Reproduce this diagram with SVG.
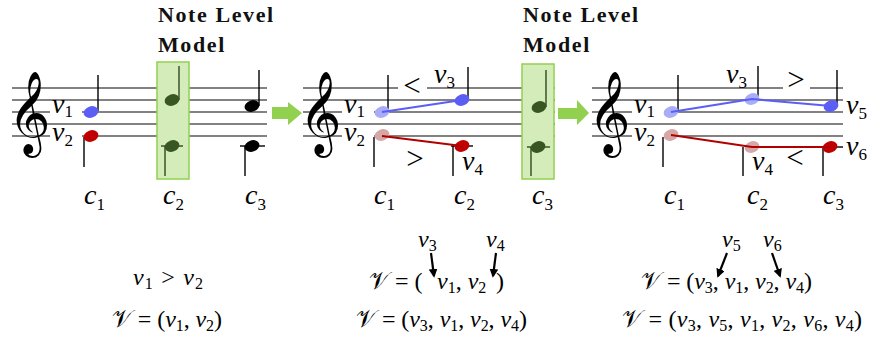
<svg xmlns="http://www.w3.org/2000/svg" xmlns:xlink="http://www.w3.org/1999/xlink" width="872" height="339" viewBox="0 0 872 339">
<style>
.staff{stroke:#5a5a5a;stroke-width:1.4;fill:none}
.stem{stroke:#000;stroke-width:1.4}
.gstem{stroke:#2f4a1f;stroke-width:1.4}
.m{font-family:"Liberation Serif",serif;font-size:28px;fill:#000}
.i{font-style:italic}
.sub{font-size:17px}
.f{font-family:"Liberation Serif",serif;font-size:24px;fill:#000}
.fs{font-size:16px}
.rel{font-family:"Liberation Serif",serif;font-size:31px;fill:#000}
.title{font-family:"Liberation Serif",serif;font-size:22px;font-weight:bold;fill:#111;letter-spacing:1.6px}
.clef{font-family:"DejaVu Sans",sans-serif;font-size:72px;fill:#000}
.box{fill:#d3ecb9;stroke:#92d050;stroke-width:1.5}
.bg{fill:#fff}
.blue{fill:#5b5ef5}.lblue{fill:#a9acf6}.red{fill:#c00000}.pink{fill:#d6a7a7}.dg{fill:#375623}.blk{fill:#000}
.bl{stroke:#5b5ef5;stroke-width:2;fill:none}
.rl{stroke:#b00000;stroke-width:2;fill:none}
.arr{stroke:#000;stroke-width:2.2;fill:none;marker-end:url(#ah)}
.garr{fill:#92d050}
</style>
<defs>
<ellipse id="hd" rx="7.6" ry="5.6" transform="rotate(-20)"/>
<marker id="ah" viewBox="0 0 10 10" refX="8" refY="5" markerWidth="4" markerHeight="4" orient="auto" markerUnits="strokeWidth">
<path d="M0,0 L10,5 L0,10 z" fill="#000"/>
</marker>
</defs>

<!-- Panel 1 -->
<g id="panel1">
<g id="staff1">
<path class="staff" d="M12,88H267M12,100H267M12,112H267M12,124H267M12,136H267"/>
<rect class="bg" x="50" y="105" width="32" height="13"/>
<rect class="bg" x="50" y="129" width="32" height="14"/>
<text class="clef" x="8" y="137">𝄞</text>
</g>
<g id="p1-v1"><text class="m" x="52" y="113"><tspan class="i">v</tspan><tspan class="sub" dy="4">1</tspan></text></g>
<g id="p1-v2"><text class="m" x="52" y="141"><tspan class="i">v</tspan><tspan class="sub" dy="5">2</tspan></text></g>
<g id="p1-model">
<rect class="box" x="157" y="62" width="32" height="117"/>
<text class="title" x="158" y="22">Note Level</text>
<text class="title" x="158" y="52">Model</text>
</g>
<g id="p1-n1"><line class="stem" x1="98" y1="75" x2="98" y2="111"/><use xlink:href="#hd" x="91" y="112" class="blue"/></g>
<g id="p1-n2"><line class="stem" x1="84" y1="137" x2="84" y2="167"/><use xlink:href="#hd" x="91" y="136" class="red"/></g>
<g id="p1-n3"><line class="gstem" x1="179" y1="66" x2="179" y2="100"/><use xlink:href="#hd" x="172" y="100" class="dg"/></g>
<g id="p1-n4"><line class="gstem" x1="161" y1="146" x2="183" y2="146"/><line class="gstem" x1="165" y1="146" x2="165" y2="176"/><use xlink:href="#hd" x="172" y="146" class="dg"/></g>
<g id="p1-n5"><line class="stem" x1="259" y1="70" x2="259" y2="106"/><use xlink:href="#hd" x="252" y="106" class="blk"/></g>
<g id="p1-n6"><line class="stem" x1="240" y1="146" x2="265" y2="146"/><line class="stem" x1="245" y1="146" x2="245" y2="176"/><use xlink:href="#hd" x="252" y="146" class="blk"/></g>
<g id="p1-c"><text class="m" x="84" y="204"><tspan class="i">c</tspan><tspan class="sub" dy="6">1</tspan></text>
<text class="m" x="163" y="204"><tspan class="i">c</tspan><tspan class="sub" dy="6">2</tspan></text>
<text class="m" x="245" y="204"><tspan class="i">c</tspan><tspan class="sub" dy="6">3</tspan></text></g>
<g id="p1-formula">
<text class="f" x="133" y="285" textLength="70" lengthAdjust="spacing"><tspan class="i">v</tspan><tspan class="fs" dy="4">1</tspan><tspan dy="-4"> &gt; </tspan><tspan class="i">v</tspan><tspan class="fs" dy="4">2</tspan></text>
<text class="f" x="112" y="327" textLength="110" lengthAdjust="spacing">𝒱 = (<tspan class="i">v</tspan><tspan class="fs" dy="4">1</tspan><tspan dy="-4">, </tspan><tspan class="i">v</tspan><tspan class="fs" dy="4">2</tspan><tspan dy="-4">)</tspan></text>
</g>
</g>

<!-- Panel 2 -->
<g id="panel2">
<g id="staff2">
<path class="staff" d="M303,88H555M303,100H555M303,112H555M303,124H555M303,136H555"/>
<rect class="bg" x="342" y="105" width="32" height="13"/>
<rect class="bg" x="342" y="129" width="32" height="14"/>
<rect class="bg" x="398" y="84" width="29" height="8"/>
<text class="clef" x="299" y="137">𝄞</text>
</g>
<g id="p2-v1"><text class="m" x="344" y="113"><tspan class="i">v</tspan><tspan class="sub" dy="4">1</tspan></text></g>
<g id="p2-v2"><text class="m" x="344" y="141"><tspan class="i">v</tspan><tspan class="sub" dy="5">2</tspan></text></g>
<text class="rel" x="412" y="96" text-anchor="middle">&lt;</text>
<text class="rel" x="415" y="169" text-anchor="middle">&gt;</text>
<g id="p2-v3"><text class="m" x="434" y="83"><tspan class="i">v</tspan><tspan class="sub" dy="5">3</tspan></text></g>
<g id="p2-v4"><text class="m" x="462" y="170"><tspan class="i">v</tspan><tspan class="sub" dy="5">4</tspan></text></g>
<g id="p2-model">
<rect class="box" x="522" y="64" width="32" height="115"/>
<text class="title" x="523" y="22">Note Level</text>
<text class="title" x="523" y="52">Model</text>
</g>
<g id="p2-n1"><line class="stem" x1="388" y1="75" x2="388" y2="111"/><use xlink:href="#hd" x="382" y="112" class="lblue"/></g>
<g id="p2-n2"><line class="stem" x1="374" y1="137" x2="374" y2="167"/><use xlink:href="#hd" x="382" y="135" class="pink"/></g>
<g id="p2-n3"><line class="stem" x1="468" y1="67" x2="468" y2="100"/><use xlink:href="#hd" x="462" y="100" class="blue"/></g>
<g id="p2-n4"><line class="stem" x1="451" y1="146" x2="473" y2="146"/><line class="stem" x1="453" y1="146" x2="453" y2="176"/><use xlink:href="#hd" x="462" y="146" class="red"/></g>
<g id="p2-n5"><line class="gstem" x1="546" y1="70" x2="546" y2="107"/><use xlink:href="#hd" x="539" y="107" class="dg"/></g>
<g id="p2-n6"><line class="gstem" x1="527" y1="147" x2="550" y2="147"/><line class="gstem" x1="531" y1="147" x2="531" y2="176"/><use xlink:href="#hd" x="538" y="147" class="dg"/></g>
<g id="p2-c"><text class="m" x="374" y="204"><tspan class="i">c</tspan><tspan class="sub" dy="6">1</tspan></text>
<text class="m" x="454" y="204"><tspan class="i">c</tspan><tspan class="sub" dy="6">2</tspan></text>
<text class="m" x="532" y="204"><tspan class="i">c</tspan><tspan class="sub" dy="6">3</tspan></text></g>
<g id="p2-formula">
<text class="f" x="418" y="247"><tspan class="i">v</tspan><tspan class="fs" dy="4">3</tspan></text>
<text class="f" x="486" y="247"><tspan class="i">v</tspan><tspan class="fs" dy="4">4</tspan></text>
<text class="f" x="369" y="289">𝒱 = (</text>
<text class="f" x="437" y="289"><tspan class="i">v</tspan><tspan class="fs" dy="4">1</tspan><tspan dy="-4">, </tspan><tspan class="i">v</tspan><tspan class="fs" dy="4">2</tspan></text>
<text class="f" x="496" y="289">)</text>
<text class="f" x="356" y="327" textLength="171" lengthAdjust="spacing">𝒱 = (<tspan class="i">v</tspan><tspan class="fs" dy="4">3</tspan><tspan dy="-4">, </tspan><tspan class="i">v</tspan><tspan class="fs" dy="4">1</tspan><tspan dy="-4">, </tspan><tspan class="i">v</tspan><tspan class="fs" dy="4">2</tspan><tspan dy="-4">, </tspan><tspan class="i">v</tspan><tspan class="fs" dy="4">4</tspan><tspan dy="-4">)</tspan></text>
</g>
</g>

<!-- Panel 3 -->
<g id="panel3">
<g id="staff3">
<path class="staff" d="M592,88H843M592,100H843M592,112H843M592,124H843M592,136H843"/>
<rect class="bg" x="632" y="105" width="32" height="13"/>
<rect class="bg" x="632" y="129" width="32" height="14"/>
<rect class="bg" x="783" y="84" width="27" height="8"/>
<text class="clef" x="588" y="137">𝄞</text>
</g>
<g id="p3-v1"><text class="m" x="634" y="113"><tspan class="i">v</tspan><tspan class="sub" dy="4">1</tspan></text></g>
<g id="p3-v2"><text class="m" x="634" y="141"><tspan class="i">v</tspan><tspan class="sub" dy="5">2</tspan></text></g>
<g id="p3-v3"><text class="m" x="726" y="83"><tspan class="i">v</tspan><tspan class="sub" dy="5">3</tspan></text></g>
<g id="p3-v4"><text class="m" x="752" y="170"><tspan class="i">v</tspan><tspan class="sub" dy="5">4</tspan></text></g>
<g id="p3-v5"><text class="m" x="846" y="114"><tspan class="i">v</tspan><tspan class="sub" dy="5">5</tspan></text></g>
<g id="p3-v6"><text class="m" x="846" y="155"><tspan class="i">v</tspan><tspan class="sub" dy="5">6</tspan></text></g>
<text class="rel" x="796" y="90" text-anchor="middle">&gt;</text>
<text class="rel" x="795" y="168" text-anchor="middle">&lt;</text>
<g id="p3-n1"><line class="stem" x1="678" y1="75" x2="678" y2="111"/><use xlink:href="#hd" x="671" y="112" class="lblue"/></g>
<g id="p3-n2"><line class="stem" x1="758" y1="66" x2="758" y2="99"/><use xlink:href="#hd" x="752" y="99" class="lblue"/></g>
<g id="p3-n3"><line class="stem" x1="837" y1="70" x2="837" y2="106"/><use xlink:href="#hd" x="831" y="106" class="blue"/></g>
<g id="p3-n4"><line class="stem" x1="663" y1="137" x2="663" y2="167"/><use xlink:href="#hd" x="671" y="135" class="pink"/></g>
<g id="p3-n5"><line class="stem" x1="743" y1="147" x2="743" y2="176"/><use xlink:href="#hd" x="752" y="147" class="pink"/></g>
<g id="p3-n6"><line class="stem" x1="820" y1="147" x2="843" y2="147"/><line class="stem" x1="823" y1="147" x2="823" y2="176"/><use xlink:href="#hd" x="830" y="147" class="red"/></g>
<g id="p3-c"><text class="m" x="664" y="204"><tspan class="i">c</tspan><tspan class="sub" dy="6">1</tspan></text>
<text class="m" x="747" y="204"><tspan class="i">c</tspan><tspan class="sub" dy="6">2</tspan></text>
<text class="m" x="823" y="204"><tspan class="i">c</tspan><tspan class="sub" dy="6">3</tspan></text></g>
<g id="p3-formula">
<text class="f" x="722" y="247"><tspan class="i">v</tspan><tspan class="fs" dy="4">5</tspan></text>
<text class="f" x="763" y="247"><tspan class="i">v</tspan><tspan class="fs" dy="4">6</tspan></text>
<text class="f" x="641" y="289" textLength="171" lengthAdjust="spacing">𝒱 = (<tspan class="i">v</tspan><tspan class="fs" dy="4">3</tspan><tspan dy="-4">, </tspan><tspan class="i">v</tspan><tspan class="fs" dy="4">1</tspan><tspan dy="-4">, </tspan><tspan class="i">v</tspan><tspan class="fs" dy="4">2</tspan><tspan dy="-4">, </tspan><tspan class="i">v</tspan><tspan class="fs" dy="4">4</tspan><tspan dy="-4">)</tspan></text>
<text class="f" x="622" y="327" textLength="240" lengthAdjust="spacing">𝒱 = (<tspan class="i">v</tspan><tspan class="fs" dy="4">3</tspan><tspan dy="-4">, </tspan><tspan class="i">v</tspan><tspan class="fs" dy="4">5</tspan><tspan dy="-4">, </tspan><tspan class="i">v</tspan><tspan class="fs" dy="4">1</tspan><tspan dy="-4">, </tspan><tspan class="i">v</tspan><tspan class="fs" dy="4">2</tspan><tspan dy="-4">, </tspan><tspan class="i">v</tspan><tspan class="fs" dy="4">6</tspan><tspan dy="-4">, </tspan><tspan class="i">v</tspan><tspan class="fs" dy="4">4</tspan><tspan dy="-4">)</tspan></text>
</g>
</g>

<!-- Connectors -->
<g id="connectors">
<polygon class="garr" points="272,107 288,107 288,102 302,113 288,125 288,119 272,119"/>
<polygon class="garr" points="558,108 577,108 577,100 589,113 577,125 577,119 558,119"/>
<line class="bl" x1="382" y1="112" x2="462" y2="100"/>
<line class="rl" x1="382" y1="136" x2="462" y2="146"/>
<polyline class="bl" points="671,112 752,99 831,106"/>
<polyline class="rl" points="671,135 752,147 830,147"/>
<line class="arr" x1="431" y1="253" x2="434" y2="276"/>
<line class="arr" x1="496" y1="253" x2="493" y2="276"/>
<line class="arr" x1="727" y1="253" x2="718" y2="276"/>
<line class="arr" x1="772" y1="253" x2="780" y2="276"/>
</g>
</svg>
